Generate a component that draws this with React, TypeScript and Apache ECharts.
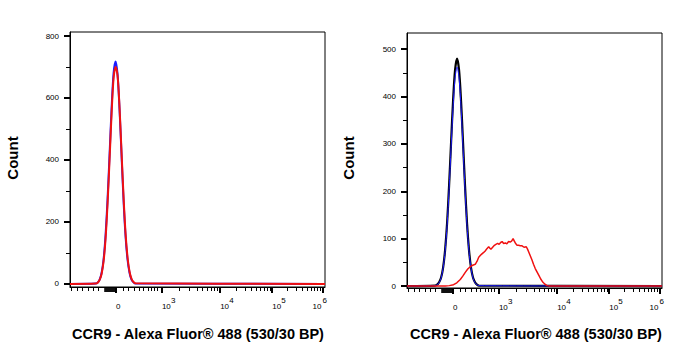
import React, { useEffect, useRef } from 'react';
import * as echarts from 'echarts';

// ---- axis structure (channel scale 0..1024, logicle-like display) ----
const CH_MAX = 1024;
const X_MAJOR = [185, 369, 603, 812, 1014];
const X_LABEL_BASE = ['0', '10', '10', '10', '10'];
const X_LABEL_EXP = ['', '3', '4', '5', '6'];
const X_ZERO_CLUSTER = [141, 145, 149, 153, 157, 161, 165, 169, 173, 177, 181];
const X_LINEAR_MINOR = [6, 28, 50, 72, 93, 114, 214, 235, 258, 277, 295, 313, 328, 339, 352];
const DECADE_SUBDIV = [2, 3, 4, 5, 6, 7, 8, 9];

const LEFT_Y_LABELS = [0, 200, 400, 600, 800];
const LEFT_Y_TICKS = [0, 100, 200, 300, 400, 500, 600, 700, 800];
const RIGHT_Y_LABELS = [0, 100, 200, 300, 400, 500];
const RIGHT_Y_TICKS = [0, 50, 100, 150, 200, 250, 300, 350, 400, 450, 500];

const X_TITLE = 'CCR9 - Alexa Fluor® 488 (530/30 BP)';
const Y_TITLE = 'Count';

// ---- histogram data (channel, count) ----
const LEFT_BINS = [103, 111, 119, 127, 135, 143, 151, 159, 167, 175, 183, 191, 199, 207, 215, 223, 231, 239, 247, 255, 263];
const LEFT_BLUE = [1, 4, 14, 36, 80, 160, 276, 420, 566, 680, 718, 676, 562, 415, 270, 155, 79, 36, 14, 5, 1];
const LEFT_RED = [1, 4, 13, 33, 74, 148, 262, 404, 550, 664, 700, 672, 568, 424, 282, 164, 86, 40, 16, 6, 2];

const RIGHT_BINS = [113, 121, 129, 137, 145, 153, 161, 169, 177, 185, 193, 201, 209, 217, 225, 233, 241, 249, 257, 265, 273, 281, 289];
const RIGHT_BLACK = [1, 3, 8, 18, 39, 76, 133, 212, 303, 391, 456, 480, 456, 391, 303, 212, 133, 76, 39, 18, 8, 3, 1];
const RIGHT_BLUE = [1, 3, 7, 17, 38, 73, 128, 204, 292, 377, 439, 462, 439, 377, 292, 204, 128, 73, 38, 17, 7, 3, 1];

const RIGHT_RED_X = [154, 170, 187, 200, 214, 224, 234, 244, 254, 264, 274, 281, 288, 295, 301, 308, 314, 321, 328, 333, 337, 344, 351, 357, 364, 370, 376, 382, 388, 395, 401, 408, 414, 420, 426, 431, 435, 442, 448, 455, 462, 470, 479, 484, 488, 495, 502, 508, 515, 522, 529, 537, 546, 554, 562, 572];
const RIGHT_RED_Y = [0, 1, 3, 7, 14, 21, 29, 36, 41, 44, 46, 52, 61, 65, 68, 71, 74, 79, 83, 80, 78, 82, 86, 88, 90, 88, 92, 94, 90, 91, 89, 94, 93, 95, 100, 95, 91, 86, 86, 85, 85, 82, 83, 78, 73, 64, 55, 46, 37, 30, 23, 15, 8, 4, 1, 0];

const FONT = '"Liberation Sans", Arial, sans-serif';

function withBaseline(xs: number[], ys: number[]): number[][] {
  const pts: number[][] = [[0, 0]];
  xs.forEach((x, i) => pts.push([x, ys[i]]));
  pts.push([CH_MAX, 0]);
  return pts;
}

function decadeMinor(): number[] {
  const out: number[] = [];
  for (let i = 1; i < X_MAJOR.length - 1; i++) {
    const a = X_MAJOR[i];
    const b = X_MAJOR[i + 1];
    DECADE_SUBDIV.forEach((k) => out.push(a + Math.log10(k) * (b - a)));
  }
  return out;
}

function lookup(arr: string[]) {
  return (v: number) => {
    const idx = X_MAJOR.findIndex((m) => Math.abs(m - v) < 0.01);
    return idx < 0 ? '' : arr[idx];
  };
}

export default function App() {
  const ref = useRef<HTMLDivElement>(null);
  useEffect(() => {
    if (!ref.current) return;
    const chart = echarts.init(ref.current, undefined, { renderer: 'svg' });
    const minor = [...X_LINEAR_MINOR, ...decadeMinor()];
    const hidden = { show: false };
    const last = X_MAJOR.length - 1;
    const txt = { fontSize: 8, fontFamily: FONT, color: '#000' };

    const base = (gridIndex: number) => ({
      type: 'value', gridIndex, position: 'bottom', min: 0, max: CH_MAX, splitLine: hidden,
    });
    const xMajor = (g: number) => ({
      ...base(g),
      axisLine: { show: true, onZero: false, lineStyle: { color: '#000', width: 1 } },
      axisTick: { show: true, customValues: X_MAJOR, length: 6, lineStyle: { color: '#000', width: 2 } },
      axisLabel: hidden,
    });
    const xCluster = (g: number) => ({
      ...base(g), axisLine: { show: false, onZero: false },
      axisTick: { show: true, customValues: X_ZERO_CLUSTER, length: 5, lineStyle: { color: '#000', width: 1.5 } },
      axisLabel: hidden,
    });
    const xMinor = (g: number) => ({
      ...base(g), axisLine: { show: false, onZero: false },
      axisTick: { show: true, customValues: minor, length: 4, lineStyle: { color: '#000', width: 1 } },
      axisLabel: hidden,
    });
    const xLabels = (g: number, values: number[], arr: string[], align: string, margin: number, padding: number[]) => ({
      ...base(g), axisLine: { show: false, onZero: false }, axisTick: hidden,
      axisLabel: { show: true, customValues: values, formatter: lookup(arr), align, margin, padding, ...txt },
    });
    const xAxesFor = (g: number) => [
      xMajor(g), xCluster(g), xMinor(g),
      xLabels(g, X_MAJOR.slice(0, last), X_LABEL_BASE, 'left', 15, [0, 0, 0, 0]),
      xLabels(g, X_MAJOR.slice(1, last), X_LABEL_EXP, 'left', 9, [0, 0, 0, 9]),
      xLabels(g, [X_MAJOR[last]], X_LABEL_BASE, 'right', 15, [0, 1, 0, 0]),
      xLabels(g, [X_MAJOR[last]], X_LABEL_EXP, 'left', 9, [0, 0, 0, 0]),
    ];
    const yMajor = (gridIndex: number, min: number, max: number, labels: number[]) => ({
      type: 'value', gridIndex, position: 'left', min, max, splitLine: hidden,
      axisLine: { show: true, onZero: false, lineStyle: { color: '#000', width: 1 } },
      axisTick: { show: true, customValues: labels, length: 6, lineStyle: { color: '#000', width: 2 } },
      axisLabel: { show: true, customValues: labels, margin: 11, ...txt },
    });
    const yMinor = (gridIndex: number, min: number, max: number, ticks: number[]) => ({
      type: 'value', gridIndex, position: 'left', min, max, splitLine: hidden,
      axisLine: { show: false, onZero: false },
      axisTick: { show: true, customValues: ticks, length: 4, lineStyle: { color: '#000', width: 1 } },
      axisLabel: hidden,
    });
    const line = (xi: number, yi: number, data: number[][], color: string, width: number, smooth: number | boolean) => ({
      type: 'line', xAxisIndex: xi, yAxisIndex: yi, data, showSymbol: false, smooth,
      lineStyle: { color, width }, itemStyle: { color }, silent: true,
    });
    const left = xAxesFor(0);
    const rightIdx = left.length;

    chart.setOption({
      animation: false,
      backgroundColor: '#fff',
      grid: [
        { left: 70, top: 32, width: 255, height: 255, show: true, borderColor: '#000', borderWidth: 1, backgroundColor: 'transparent' },
        { left: 407, top: 33, width: 255, height: 255, show: true, borderColor: '#000', borderWidth: 1, backgroundColor: 'transparent' },
      ],
      xAxis: [...left, ...xAxesFor(1)],
      yAxis: [
        yMajor(0, -10, 813, LEFT_Y_LABELS), yMinor(0, -10, 813, LEFT_Y_TICKS),
        yMajor(1, -4, 534, RIGHT_Y_LABELS), yMinor(1, -4, 534, RIGHT_Y_TICKS),
      ],
      series: [
        line(0, 0, withBaseline(LEFT_BINS, LEFT_BLUE), '#1a1aff', 2, 0.3),
        line(0, 0, withBaseline(LEFT_BINS, LEFT_RED), '#f01010', 2, 0.3),
        line(rightIdx, 2, withBaseline(RIGHT_BINS, RIGHT_BLACK), '#000000', 2.2, 0.3),
        line(rightIdx, 2, withBaseline(RIGHT_BINS, RIGHT_BLUE), '#1a1aff', 1, 0.3),
        line(rightIdx, 2, withBaseline(RIGHT_RED_X, RIGHT_RED_Y), '#f01010', 1.5, false),
      ],
      graphic: [
        { type: 'text', x: 12, y: 158, rotation: Math.PI / 2, style: { text: Y_TITLE, font: `bold 15px ${FONT}`, fill: '#000', textAlign: 'center', textVerticalAlign: 'middle' } },
        { type: 'text', x: 348, y: 158, rotation: Math.PI / 2, style: { text: Y_TITLE, font: `bold 15px ${FONT}`, fill: '#000', textAlign: 'center', textVerticalAlign: 'middle' } },
        { type: 'text', x: 198, y: 334, style: { text: X_TITLE, font: `bold 14.5px ${FONT}`, fill: '#000', textAlign: 'center', textVerticalAlign: 'middle' } },
        { type: 'text', x: 536, y: 334, style: { text: X_TITLE, font: `bold 14.5px ${FONT}`, fill: '#000', textAlign: 'center', textVerticalAlign: 'middle' } },
      ],
    });
    return () => chart.dispose();
  }, []);
  return <div ref={ref} style={{ position: 'absolute', left: 0, top: 0, width: 683, height: 361 }} />;
}
